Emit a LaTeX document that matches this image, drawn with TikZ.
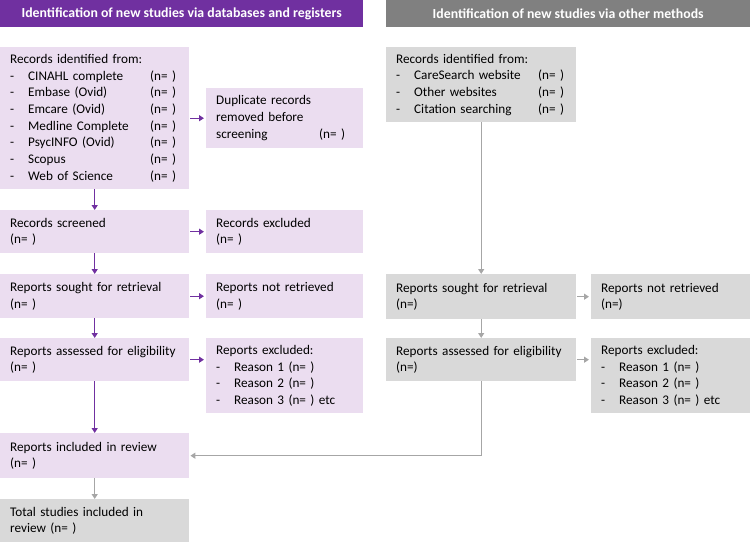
\documentclass[tikz,border=0pt]{standalone}
\usepackage{fontspec}
\setmainfont{Carlito}
\usetikzlibrary{arrows.meta}
\definecolor{hpurple}{RGB}{112,48,160}
\definecolor{lpurple}{RGB}{235,221,240}
\definecolor{hgray}{RGB}{128,128,128}
\definecolor{lgray}{RGB}{217,217,217}
\definecolor{agray}{RGB}{166,166,166}
\newcommand{\dashitem}[3]{\makebox[18pt][l]{-}\makebox[#1][l]{#2}#3}
\begin{document}
\begin{tikzpicture}[x=1pt,y=-1pt,
  txt/.style={font=\fontsize{13.2}{16.7}\selectfont},
  hdr/.style={font=\fontsize{13.8}{16}\selectfont\bfseries,text=white,inner sep=0pt,anchor=north west},
  pbox/.style={txt,fill=lpurple,anchor=north west,align=left,inner xsep=10pt,inner ysep=0pt},
  gbox/.style={txt,fill=lgray,anchor=north west,align=left,inner xsep=10pt,inner ysep=0pt},
  parr/.style={draw=hpurple,line width=1.3pt,-{Triangle[length=5pt,width=6pt]}},
  garr/.style={draw=agray,line width=1.3pt,-{Triangle[length=5pt,width=6pt]}}]
\useasboundingbox (0,0) rectangle (750,546);
% headers
\node[hdr,fill=hpurple,minimum width=363pt,minimum height=27pt] (hL) at (0,0) {Identification of new studies via databases and registers};
\node[hdr,fill=hgray,minimum width=364pt,minimum height=27pt] (hR) at (386,0) {Identification of new studies via other methods};
% left column
\node[pbox,text width=169pt,minimum height=142pt] (b1) at (0,47) {Records identified from:\\
\dashitem{122pt}{CINAHL complete}{(n= )}\\
\dashitem{122pt}{Embase (Ovid)}{(n= )}\\
\dashitem{122pt}{Emcare (Ovid)}{(n= )}\\
\dashitem{122pt}{Medline Complete}{(n= )}\\
\dashitem{122pt}{PsycINFO (Ovid)}{(n= )}\\
\dashitem{122pt}{Scopus}{(n= )}\\
\dashitem{122pt}{Web of Science}{(n= )}};
\node[pbox,text width=137pt,minimum height=60pt] (dup) at (206,88) {Duplicate records\\removed before\\\makebox[103pt][l]{screening}(n= )};
\node[pbox,text width=169pt,minimum height=43pt] (rs) at (0,210) {Records screened\\(n= )};
\node[pbox,text width=137pt,minimum height=43pt] (rex) at (206,210) {Records excluded\\(n= )};
\node[pbox,text width=169pt,minimum height=44pt] (so) at (0,274) {Reports sought for retrieval\\(n= )};
\node[pbox,text width=137pt,minimum height=44pt] (nr) at (206,274) {Reports not retrieved\\(n= )};
\node[pbox,text width=169pt,minimum height=43pt] (as) at (0,338) {Reports assessed for eligibility\\(n= )};
\node[pbox,text width=137pt,minimum height=75pt] (ex) at (206,338) {Reports excluded:\\
\makebox[18pt][l]{-}Reason 1 (n= )\\
\makebox[18pt][l]{-}Reason 2 (n= )\\
\makebox[18pt][l]{-}Reason 3 (n= ) etc};
\node[pbox,text width=169pt,minimum height=45pt] (inc) at (0,433) {Reports included in review\\(n= )};
\node[gbox,text width=169pt,minimum height=43pt] (tot) at (0,499) {Total studies included in\\review (n= )};
% right column
\node[gbox,text width=170pt,minimum height=75pt] (rb1) at (386,47) {Records identified from:\\
\dashitem{124pt}{CareSearch website}{(n= )}\\
\dashitem{124pt}{Other websites}{(n= )}\\
\dashitem{124pt}{Citation searching}{(n= )}};
\node[gbox,text width=170pt,minimum height=45pt] (rso) at (386,274) {Reports sought for retrieval\\(n=)};
\node[gbox,text width=139pt,minimum height=45pt] (rnr) at (591,274) {Reports not retrieved\\(n=)};
\node[gbox,text width=170pt,minimum height=43pt] (ras) at (386,338) {Reports assessed for eligibility\\(n=)};
\node[gbox,text width=139pt,minimum height=75pt] (rex2) at (591,338) {Reports excluded:\\
\makebox[18pt][l]{-}Reason 1 (n= )\\
\makebox[18pt][l]{-}Reason 2 (n= )\\
\makebox[18pt][l]{-}Reason 3 (n= ) etc};
% purple arrows
\draw[parr,shorten <=1pt,shorten >=2pt] (b1.east) -- (dup.west);
\draw[parr,shorten <=1pt,shorten >=2pt] (rs.east) -- (rex.west);
\draw[parr,shorten <=1pt,shorten >=2pt] (so.east) -- (nr.west);
\draw[parr,shorten <=1pt,shorten >=2pt] (as.east) -- (as.east -| ex.west);
\draw[parr] (b1.south) -- (rs.north);
\draw[parr] (rs.south) -- (so.north);
\draw[parr] (so.south) -- (as.north);
\draw[parr] (as.south) -- (inc.north);
% gray arrows
\draw[garr] (rb1.south) -- (rso.north);
\draw[garr] (rso.south) -- (ras.north);
\draw[garr,shorten <=1pt,shorten >=2pt] (rso.east) -- (rnr.west);
\draw[garr,shorten <=1pt,shorten >=2pt] (ras.east) -- (ras.east -| rex2.west);
\draw[garr,shorten >=1pt] (ras.south) |- (inc.east);
\draw[garr] (inc.south) -- (tot.north);
\end{tikzpicture}
\end{document}
